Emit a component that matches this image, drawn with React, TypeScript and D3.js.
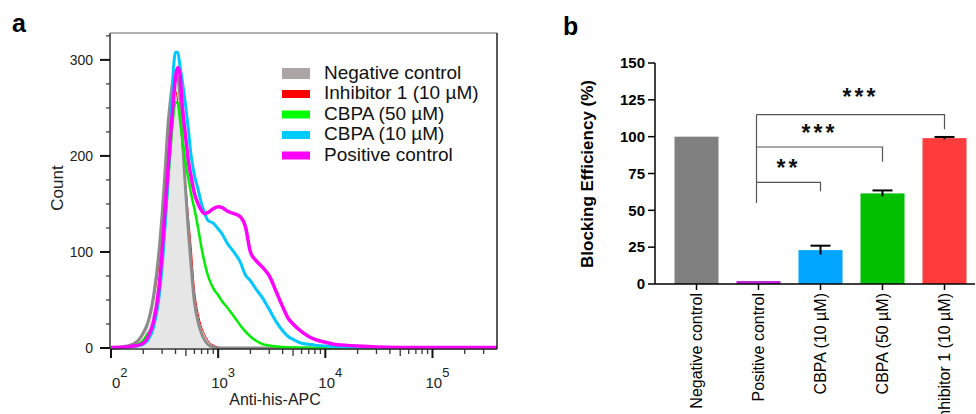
import React from 'react';
import * as d3 from 'd3';

// panel a: flow cytometry histograms (fluorescence channel values, counts per series)
const fluorescence = [100, 120, 140, 160, 180, 200, 220, 250, 280, 300, 320, 340, 360, 380, 400, 420, 440, 460, 480, 500, 530, 560, 600, 650, 700, 750, 800, 900, 1000, 1100, 1200, 1400, 1600, 1800, 2000, 2300, 2600, 3000, 3500, 4000, 4500, 5000, 6000, 7000, 8000, 10000, 12000, 15000, 20000, 30000, 50000, 100000, 200000, 400000];

const negativeControl = [0.5, 1, 2, 4, 8, 16, 26, 55, 100, 140, 185, 232, 260, 280, 285, 281, 262, 225, 190, 160, 118, 85, 48, 27, 15, 8, 4, 1, 0, 0, 0, 0, 0, 0, 0, 0, 0, 0, 0, 0, 0, 0, 0, 0, 0, 0, 0, 0, 0, 0, 0, 0, 0, 0];
const inhibitor1 = [0, 0.5, 1.5, 3, 7, 14, 24, 50, 88, 125, 168, 210, 243, 263, 268, 256, 236, 212, 190, 168, 135, 105, 62, 36, 22, 14, 8, 3, 1, 0.3, 0, 0, 0, 0, 0, 0, 0, 0, 0, 0, 0, 0, 0, 0, 0, 0, 0, 0, 0, 0, 0, 0, 0, 0];
const cbpa50 = [0, 0.5, 1, 2, 4, 8, 15, 25, 55, 88, 128, 170, 208, 240, 256, 255, 238, 220, 205, 190, 175, 160, 145, 125, 104, 88, 76, 62, 55, 48, 43, 33, 24, 17, 12, 7, 4, 2.5, 1.5, 1, 0.7, 0.5, 0.3, 0.2, 0, 0, 0, 0, 0, 0, 0, 0, 0, 0];
const cbpa10 = [0, 0.3, 0.8, 1.5, 2.5, 4, 8, 22, 52, 85, 128, 175, 225, 285, 308, 308, 294, 280, 265, 250, 225, 200, 180, 165, 150, 140, 133, 130, 124, 118, 110, 100, 90, 76, 70, 60, 52, 40, 27, 18, 12, 9, 5, 4, 3, 2, 1.5, 1, 0.6, 0.4, 0.3, 0.2, 0.2, 0.2];
const positiveControl = [0.5, 0.5, 1, 2, 3, 5, 11, 28, 62, 100, 145, 185, 222, 255, 282, 292, 285, 255, 235, 217, 193, 178, 161, 150, 143, 140, 141, 145, 147, 146, 143, 140, 137, 126, 100, 90, 84, 75, 58, 43, 31, 25, 17, 12, 9, 6, 4, 3, 2, 1, 0.5, 0.4, 0.4, 0.4];

const legendLabels = ['Negative control', 'Inhibitor 1 (10 µM)', 'CBPA (50 µM)', 'CBPA (10 µM)', 'Positive control'];
const xMajorTicks = [1e2, 1e3, 1e4, 1e5];
const countTicks = [0, 100, 200, 300];

// panel b: blocking efficiency bars
const bCategories = ['Negative control', 'Positive control', 'CBPA (10 µM)', 'CBPA (50 µM)', 'Inhibitor 1 (10 µM)'];
const bMeans = [100, 2, 23, 61.5, 99];
const bErrors = [0, 0, 3, 2, 0.8];
const bTicks = [0, 25, 50, 75, 100, 125, 150];
// significance: comparison index pairs, label, bracket height, right-leg end
const sigFrom = [1, 1, 1];
const sigTo = [2, 3, 4];
const sigLabels = ['**', '***', '***'];
const sigTop = [69, 93, 115];
const sigEnd = [63, 83, 105];
const sigBase = 55;

const FONT = "'Liberation Sans', Arial, Helvetica, sans-serif";
const barColors = ['#808080', '#c41ee6', '#00a5ff', '#00c000', '#ff3b3b'];

const HistogramPanel = () => {
  const x = d3.scaleLog().domain([100, 400000]).range([111, 497]);
  const y = d3.scaleLinear().domain([0, 328]).range([348, 33]);

  const line = d3
    .line<number>()
    .x((_, i) => x(fluorescence[i]))
    .y((d) => y(d))
    .curve(d3.curveMonotoneX);
  const area = d3
    .area<number>()
    .x((_, i) => x(fluorescence[i]))
    .y0(y(0))
    .y1((d) => y(d))
    .curve(d3.curveMonotoneX);

  const minorTicks: { v: number; mid: boolean }[] = [];
  xMajorTicks.forEach((d) => {
    for (let m = 2; m <= 9; m++) {
      if (m * d < 400000) minorTicks.push({ v: m * d, mid: m === 5 });
    }
  });
  const yMinor = d3.range(25, 326, 25).filter((v) => v % 100 !== 0);

  const series = [
    { data: inhibitor1, color: '#ff0000', width: 1 },
    { data: negativeControl, color: '#8c8c8c', width: 3 },
    { data: cbpa50, color: '#00ee00', width: 2.5 },
    { data: cbpa10, color: '#00c8ff', width: 3 },
    { data: positiveControl, color: '#ff00ff', width: 3.5 },
  ];
  const swatchColors = ['#aba5a5', '#ff0000', '#00ff00', '#00ccff', '#ff00ff'];

  return (
    <g fontFamily={FONT}>
      <text x={12} y={32} fontSize={25} fontWeight="bold">a</text>

      <path d={area(negativeControl) || ''} fill="#e6e6e6" />
      {series.map((s, i) => (
        <path key={i} d={line(s.data) || ''} fill="none" stroke={s.color} strokeWidth={s.width} strokeLinejoin="round" />
      ))}

      {/* frame */}
      <line x1={110} x2={497} y1={33} y2={33} stroke="#999" strokeWidth={1.5} />
      <line x1={497} x2={497} y1={33} y2={349} stroke="#222" strokeWidth={1.5} />
      <line x1={110} x2={110} y1={33} y2={349} stroke="#333" strokeWidth={1.5} />
      <line x1={110} x2={497} y1={349} y2={349} stroke="#333" strokeWidth={1.5} />

      {/* y ticks */}
      {countTicks.map((t) => (
        <g key={t}>
          <line x1={100} x2={110} y1={y(t)} y2={y(t)} stroke="#111" strokeWidth={2} />
          <text x={93} y={y(t)} dy="0.35em" textAnchor="end" fontSize={14} fill="#222">{t}</text>
        </g>
      ))}
      {yMinor.map((t) => (
        <line key={t} x1={106} x2={110} y1={y(t)} y2={y(t)} stroke="#333" strokeWidth={1.2} />
      ))}
      <text transform="translate(57,188) rotate(-90)" textAnchor="middle" dy="0.35em" fontSize={17} fill="#222">Count</text>

      {/* x ticks; the first label is cut at the axis in the source, leaving "0²" */}
      {xMajorTicks.map((t, i) => (
        <g key={t}>
          <line x1={x(t)} x2={x(t)} y1={349} y2={358} stroke="#111" strokeWidth={2} />
          <text x={i === 0 ? x(t) + 1 : x(t) - 7} y={388} fontSize={15} fill="#222">
            {i === 0 ? '0' : '10'}<tspan dy={-11} fontSize={13}>{Math.log10(t)}</tspan>
          </text>
        </g>
      ))}
      {minorTicks.map((t) => (
        <line key={t.v} x1={x(t.v)} x2={x(t.v)} y1={349} y2={t.mid ? 356 : 354} stroke="#333" strokeWidth={1.3} />
      ))}
      <text x={275} y={405} textAnchor="middle" fontSize={16} fill="#222">Anti-his-APC</text>

      {/* legend */}
      {legendLabels.map((l, i) => {
        const by = 78.5 + i * 20.5;
        const h = i === 0 ? 11 : 8;
        return (
          <g key={l}>
            <rect x={282} y={by - 5 - h / 2} width={28} height={h} fill={swatchColors[i]} />
            <text x={324} y={by} fontSize={19} fill="#111">{l}</text>
          </g>
        );
      })}
    </g>
  );
};

const BarPanel = () => {
  const yB = d3.scaleLinear().domain([0, 150]).range([284, 63]);
  const xB = d3
    .scaleBand()
    .domain(bCategories)
    .range([665.5, 975.5])
    .paddingInner(0.29)
    .paddingOuter(0.145);
  const cx = (i: number) => (xB(bCategories[i]) as number) + xB.bandwidth() / 2;

  return (
    <g fontFamily={FONT}>
      <text x={563} y={35} fontSize={25} fontWeight="bold">b</text>

      {bCategories.map((c, i) => (
        <rect key={c} x={xB(c)} y={yB(bMeans[i])} width={xB.bandwidth()} height={yB(0) - yB(bMeans[i])} fill={barColors[i]} />
      ))}
      {bCategories.map((c, i) =>
        bErrors[i] > 0 ? (
          <g key={c} stroke="#000" strokeWidth={2}>
            <line x1={cx(i)} x2={cx(i)} y1={yB(bMeans[i] - bErrors[i])} y2={yB(bMeans[i] + bErrors[i])} />
            <line x1={cx(i) - 10} x2={cx(i) + 10} y1={yB(bMeans[i] + bErrors[i])} y2={yB(bMeans[i] + bErrors[i])} />
          </g>
        ) : null
      )}

      {/* significance brackets */}
      <line x1={cx(1) - 2} x2={cx(1) - 2} y1={yB(sigTop[2])} y2={yB(sigBase)} stroke="#555" strokeWidth={1.2} />
      {sigLabels.map((l, k) => {
        const x1 = cx(sigFrom[k]) - 2;
        const x2 = cx(sigTo[k]);
        const gap = k === 2 ? 10 : 6;
        return (
          <g key={k}>
            <path d={`M${x1},${yB(sigTop[k])}H${x2}V${yB(sigEnd[k])}`} fill="none" stroke="#555" strokeWidth={1.2} />
            <text x={(x1 + x2) / 2 + (k === 2 ? 10 : 0)} y={yB(sigTop[k]) - gap} textAnchor="middle" fontSize={23} fontWeight="bold" letterSpacing={3} fill="#111">{l}</text>
          </g>
        );
      })}

      {/* axes */}
      <line x1={655} x2={655} y1={yB(150)} y2={yB(0)} stroke="#000" strokeWidth={1.5} />
      {bTicks.map((t) => (
        <g key={t}>
          <line x1={648} x2={655} y1={yB(t)} y2={yB(t)} stroke="#000" strokeWidth={1.5} />
          <text x={645} y={yB(t)} dy="0.35em" textAnchor="end" fontSize={15} fontWeight="bold">{t}</text>
        </g>
      ))}
      <line x1={655} x2={975} y1={yB(0)} y2={yB(0)} stroke="#000" strokeWidth={1.5} />
      {bCategories.map((c, i) => (
        <g key={c}>
          <line x1={cx(i)} x2={cx(i)} y1={yB(0)} y2={yB(0) + 6} stroke="#000" strokeWidth={1.5} />
          <text transform={`translate(${cx(i)},293) rotate(-90)`} textAnchor="end" dy="0.35em" fontSize={16}>{c}</text>
        </g>
      ))}
      <text transform="translate(587,174) rotate(-90)" textAnchor="middle" dy="0.35em" fontSize={17} fontWeight="bold">Blocking Efficiency (%)</text>
    </g>
  );
};

const App = () => (
  <svg width={976} height={414} style={{ position: 'absolute', left: 0, top: 0, background: '#fff' }}>
    <rect width={976} height={414} fill="#fff" />
    <HistogramPanel />
    <BarPanel />
  </svg>
);

export default App;
